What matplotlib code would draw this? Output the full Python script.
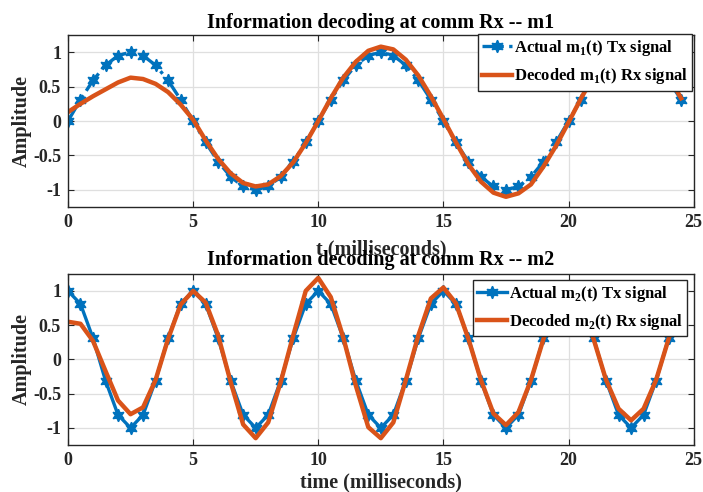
import matplotlib
matplotlib.use("Agg")
import matplotlib.pyplot as plt

plt.rcParams['font.family'] = ['Liberation Serif', 'DejaVu Serif']
plt.rcParams['font.weight'] = 'bold'
plt.rcParams['mathtext.fontset'] = 'custom'
plt.rcParams['mathtext.rm'] = 'Liberation Serif:bold'
plt.rcParams['mathtext.bf'] = 'Liberation Serif:bold'

# time axis (ms), 0.5 ms steps
t = [0.0, 0.5, 1.0, 1.5, 2.0, 2.5, 3.0, 3.5, 4.0, 4.5,
     5.0, 5.5, 6.0, 6.5, 7.0, 7.5, 8.0, 8.5, 9.0, 9.5,
     10.0, 10.5, 11.0, 11.5, 12.0, 12.5, 13.0, 13.5, 14.0, 14.5,
     15.0, 15.5, 16.0, 16.5, 17.0, 17.5, 18.0, 18.5, 19.0, 19.5,
     20.0, 20.5, 21.0, 21.5, 22.0, 22.5, 23.0, 23.5, 24.0, 24.5]

m1_tx = [0, 0.31, 0.59, 0.81, 0.95, 1.0, 0.95, 0.81, 0.59, 0.31,
         0, -0.31, -0.59, -0.81, -0.95, -1.0, -0.95, -0.81, -0.59, -0.31,
         0, 0.31, 0.59, 0.81, 0.95, 1.0, 0.95, 0.81, 0.59, 0.31,
         0, -0.31, -0.59, -0.81, -0.95, -1.0, -0.95, -0.81, -0.59, -0.31,
         0, 0.31, 0.59, 0.81, 0.95, 1.0, 0.95, 0.81, 0.59, 0.31]

m1_rx = [0.13, 0.25, 0.36, 0.46, 0.56, 0.63, 0.61, 0.54, 0.42, 0.24,
         0.02, -0.28, -0.55, -0.76, -0.9, -0.95, -0.92, -0.8, -0.6, -0.32,
         0.0, 0.33, 0.63, 0.86, 1.02, 1.08, 1.04, 0.89, 0.66, 0.36,
         0.03, -0.31, -0.63, -0.88, -1.04, -1.1, -1.05, -0.92, -0.66, -0.36,
         -0.02, 0.33, 0.65, 0.9, 1.05, 1.1, 1.05, 0.9, 0.65, 0.33]

m2_tx = [1.0, 0.81, 0.31, -0.31, -0.81, -1.0, -0.81, -0.31, 0.31, 0.81,
         1.0, 0.81, 0.31, -0.31, -0.81, -1.0, -0.81, -0.31, 0.31, 0.81,
         1.0, 0.81, 0.31, -0.31, -0.81, -1.0, -0.81, -0.31, 0.31, 0.81,
         1.0, 0.81, 0.31, -0.31, -0.81, -1.0, -0.81, -0.31, 0.31, 0.81,
         1.0, 0.81, 0.31, -0.31, -0.81, -1.0, -0.81, -0.31, 0.31, 0.81]

m2_rx = [0.55, 0.52, 0.27, -0.17, -0.6, -0.8, -0.7, -0.3, 0.3, 0.8,
         1.0, 0.83, 0.35, -0.33, -0.95, -1.15, -0.92, -0.33, 0.35, 1.0,
         1.19, 0.91, 0.32, -0.38, -0.99, -1.15, -0.92, -0.3, 0.35, 0.89,
         1.05, 0.82, 0.3, -0.3, -0.79, -0.96, -0.77, -0.3, 0.3, 0.85,
         1.02, 0.85, 0.3, -0.3, -0.72, -0.89, -0.72, -0.3, 0.3, 0.82]

blue = '#0072BD'
orange = '#D95319'
dark = '#262626'
star6 = (6, 1, 0)


def style_axes(ax):
    ax.set_xlim(0, 25)
    ax.set_ylim(-1.25, 1.25)
    ax.set_xticks([0, 5, 10, 15, 20, 25])
    ax.set_yticks([-1, -0.5, 0, 0.5, 1])
    ax.set_yticklabels(['-1', '-0.5', '0', '0.5', '1'])
    ax.grid(True, color='#dfdfdf', linewidth=0.9)
    ax.set_axisbelow(True)
    ax.tick_params(direction='in', top=True, right=True, length=4,
                   labelsize=13, colors=dark, width=0.8, pad=5)
    for lab in ax.get_xticklabels() + ax.get_yticklabels():
        lab.set_fontweight('bold')
    for s in ax.spines.values():
        s.set_color(dark)
        s.set_linewidth(1.0)
    ax.set_ylabel('Amplitude', fontsize=14.5, fontweight='bold',
                  labelpad=1, color=dark)


def add_legend(ax, anchor):
    ax.legend(loc='upper right', bbox_to_anchor=anchor, fontsize=12,
              fancybox=False, framealpha=1, edgecolor=dark, handlelength=1.8,
              handletextpad=0.1, borderpad=0.25, labelspacing=0.5,
              borderaxespad=0)


fig = plt.figure(figsize=(7.03, 4.92), dpi=100)

ax1 = fig.add_axes([0.0967, 0.579, 0.890, 0.350])
ax1.plot(t, m1_tx, color=blue, linestyle='-.', linewidth=2.4,
         marker=star6, markersize=9, label='Actual m$_\\mathrm{1}$(t) Tx signal')
ax1.plot(t, m1_rx, color=orange, linewidth=3.2,
         label='Decoded m$_\\mathrm{1}$(t) Rx signal')
style_axes(ax1)
ax1.set_title('Information decoding at comm Rx -- m1', fontsize=14.5,
              fontweight='bold', pad=5)
ax1.set_xlabel('t (milliseconds)', fontsize=14.5, fontweight='bold',
               labelpad=6, color=dark)
add_legend(ax1, (0.997, 1.006))

ax2 = fig.add_axes([0.0967, 0.0955, 0.890, 0.348])
ax2.plot(t, m2_tx, color=blue, linestyle='-', linewidth=2.4,
         marker=star6, markersize=9, label='Actual m$_\\mathrm{2}$(t) Tx signal')
ax2.plot(t, m2_rx, color=orange, linewidth=3.2,
         label='Decoded m$_\\mathrm{2}$(t) Rx signal')
style_axes(ax2)
ax2.set_title('Information decoding at comm Rx -- m2', fontsize=14.5,
              fontweight='bold', pad=6.5)
ax2.set_xlabel('time (milliseconds)', fontsize=14.5, fontweight='bold',
               labelpad=2.5, color=dark)
add_legend(ax2, (0.989, 0.965))

fig.savefig('out.png', dpi=100)
